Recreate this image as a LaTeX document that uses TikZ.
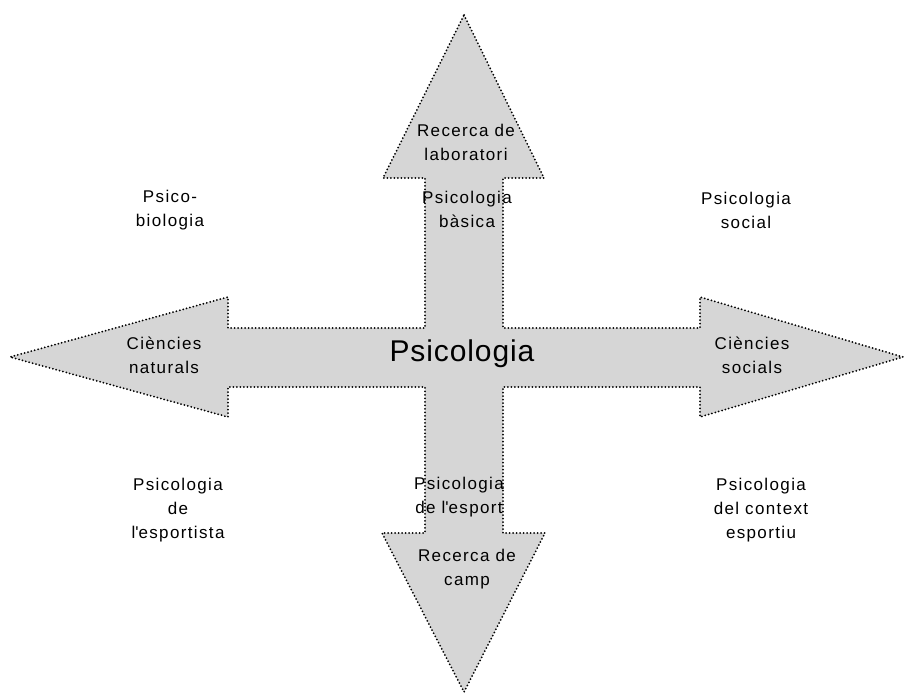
\documentclass[tikz,border=0pt]{standalone}
\usepackage{fontspec}
\setmainfont{Liberation Sans}
\newfontfamily\spacedfont[LetterSpace=8]{Liberation Sans}
\newfontfamily\bigspacedfont[LetterSpace=3]{Liberation Sans}
\begin{document}
\begin{tikzpicture}[x=1pt,y=-1pt,
  crossshape/.style={fill=black!16, draw=black, line width=2pt, line cap=round, dash pattern=on 0pt off 3.5pt},
  lbl/.style={align=center, inner sep=0pt, font=\spacedfont\fontsize{17}{24}\selectfont},
  biglbl/.style={align=center, inner sep=0pt, font=\bigspacedfont\fontsize{30}{34}\selectfont}]
\useasboundingbox (0,0) rectangle (905,693);
\draw[crossshape]
  (464,15) -- (544,178) -- (503,178) -- (503,328) -- (700,328) -- (700,297)
  -- (903,357) -- (700,417) -- (700,387) -- (503,387) -- (503,533) -- (545,533)
  -- (464,692) -- (382,533) -- (425,533) -- (425,387) -- (228,387) -- (228,417)
  -- (10,357) -- (228,297) -- (228,328) -- (425,328) -- (425,178) -- (383,178)
  -- cycle;
\node[biglbl] (center) at (462,354) {Psicologia};
\node[lbl] (lab) at (466,142) {Recerca de\\laboratori};
\node[lbl] (basica) at (467,209) {Psicologia\\bàsica};
\node[lbl] (biol) at (170,210) {Psico-\\biologia};
\node[lbl] (social) at (746,210) {Psicologia\\social};
\node[lbl] (nat) at (164,355) {Ciències\\naturals};
\node[lbl] (soc) at (752,355) {Ciències\\socials};
\node[lbl] (esportista) at (178,510) {Psicologia\\de\\l\textquotesingle esportista};
\node[lbl] (esport) at (459,497) {Psicologia\\de l\textquotesingle esport};
\node[lbl] (context) at (761,510) {Psicologia\\del context\\esportiu};
\node[lbl] (camp) at (467,569) {Recerca de\\camp};
\end{tikzpicture}
\end{document}
